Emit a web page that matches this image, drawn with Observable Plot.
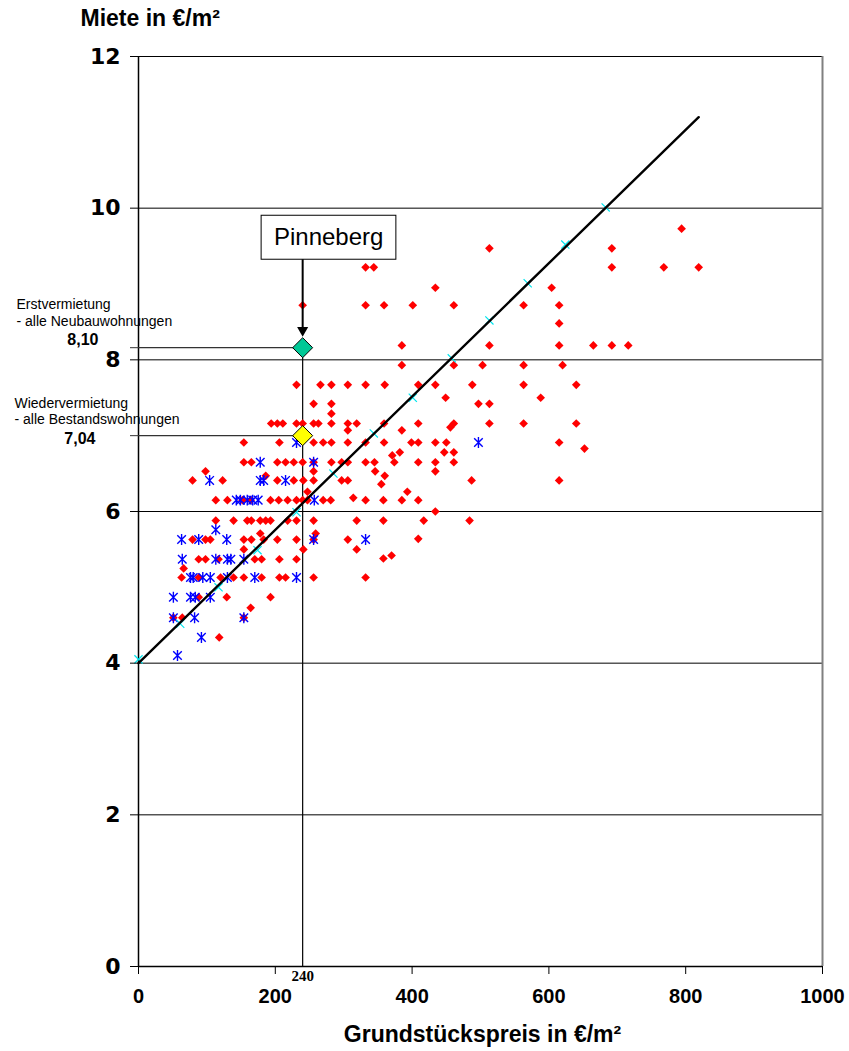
<!DOCTYPE html>
<html>
<head>
<meta charset="utf-8">
<script src="https://cdn.jsdelivr.net/npm/d3@7"></script>
<script src="https://cdn.jsdelivr.net/npm/@observablehq/plot@0.6"></script>
<style>
  html, body { margin: 0; padding: 0; background: #fff; }
  #chart svg { display: block; }
</style>
</head>
<body>
<div id="chart"></div>
<script>
// ---- data ----
const xTicks = [0, 200, 400, 600, 800, 1000];
const yTicks = [0, 2, 4, 6, 8, 10, 12];
const gridTicks = [2, 4, 6, 8, 10, 12];

// red diamonds: [rent, [land prices...]]
const redRows = [
  [9.73, [794]],
  [9.47, [513, 692]],
  [9.22, [332, 344, 692, 768, 819]],
  [8.95, [434, 604]],
  [8.72, [240, 332, 359, 401, 461, 563, 615]],
  [8.48, [615]],
  [8.19, [385, 513, 615, 665, 692, 716]],
  [7.93, [385, 461, 503, 563, 620]],
  [7.67, [231, 266, 282, 306, 332, 360, 409, 434, 488, 563, 640]],
  [7.50, [449, 588]],
  [7.42, [256, 282, 497, 513]],
  [7.29, [282]],
  [7.16, [194, 203, 211, 231, 240, 256, 263, 282, 306, 319, 359, 409, 461, 513, 563, 640]],
  [7.11, [456]],
  [7.07, [306, 385]],
  [6.91, [154, 206, 256, 270, 282, 306, 332, 359, 399, 409, 434, 450, 615]],
  [6.83, [652]],
  [6.78, [382, 447, 461]],
  [6.74, [371]],
  [6.65, [154, 165, 203, 215, 227, 240, 256, 282, 297, 306, 332, 345, 374, 409, 434, 461]],
  [6.53, [98, 256, 346, 434]],
  [6.47, [186, 360]],
  [6.41, [79, 123, 203, 227, 241, 256, 297, 306, 487, 615]],
  [6.36, [355]],
  [6.26, [247, 393]],
  [6.18, [314]],
  [6.15, [113, 130, 152, 164, 193, 205, 218, 231, 240, 247, 270, 281, 332, 358, 385, 409]],
  [6.00, [434]],
  [5.88, [113, 139, 159, 165, 178, 186, 193, 218, 231, 256, 319, 358, 417, 484]],
  [5.71, [178, 259]],
  [5.64, [409]],
  [5.63, [79, 98, 105, 154, 165, 183, 203, 231, 256, 306]],
  [5.50, [154, 241, 319]],
  [5.42, [370]],
  [5.38, [358]],
  [5.37, [88, 98, 117, 170, 180, 206, 231]],
  [5.25, [66]],
  [5.13, [63, 88, 120, 139, 154, 180, 206, 215, 256, 332]],
  [4.87, [88, 129, 193]],
  [4.73, [164]],
  [4.60, [51, 64, 154]],
  [4.34, [118]]
];

// blue asterisks
const blueRows = [
  [6.91, [231, 497]],
  [6.65, [178, 256]],
  [6.41, [104, 178, 183, 215]],
  [6.15, [143, 149, 159, 167, 175, 257]],
  [5.76, [113]],
  [5.63, [63, 88, 129, 256, 332]],
  [5.37, [64, 113, 130, 135, 154]],
  [5.13, [76, 80, 94, 105, 130, 170, 231]],
  [4.87, [51, 76, 83, 105]],
  [4.60, [51, 82, 154]],
  [4.34, [92]],
  [4.10, [57]]
];

// cyan markers on the trend line
const fitX = [0, 61, 117, 174, 231, 285, 344, 401, 458, 513, 569, 624, 683];
const fitY = [4.05, 4.52, 5.00, 5.49, 5.99, 6.50, 7.03, 7.50, 8.02, 8.52, 9.01, 9.52, 10.01];

// trend line end points
const trendX = [0, 819];
const trendY = [4.0, 11.2];

// Pinneberg values
const pinX = 240;
const erstY = 8.16, erstLabel = "8,10";
const wiederY = 7.0, wiederLabel = "7,04";
const boxSpan = {x1: 180, x2: 377, y1: 9.32, y2: 9.90};
const boxText = {x: 278, y: 9.61, label: "Pinneberg"};
const arrowTop = 9.32, arrowHeadY = 8.39;

// ---- build tables ----
const red = redRows.flatMap(([y, xs]) => xs.map(x => ({x, y})));
const blue = blueRows.flatMap(([y, xs]) => xs.map(x => ({x, y})));
const fit = fitX.map((x, i) => ({x, y: fitY[i]}));
const trend = trendX.map((x, i) => ({x, y: trendY[i]}));

// Excel-style asterisk marker: vertical bar plus an X
const excelStar = {
  draw(context, size) {
    const r = Math.sqrt(size) * 0.62;
    const d = r * 0.78;
    context.moveTo(0, -r); context.lineTo(0, r);
    context.moveTo(-d, -d); context.lineTo(d, d);
    context.moveTo(-d, d); context.lineTo(d, -d);
  }
};

const plot = Plot.plot({
  width: 849,
  height: 1051,
  marginLeft: 138,
  marginRight: 27,
  marginTop: 56,
  marginBottom: 85,
  x: {domain: [0, 1000]},
  y: {domain: [0, 12]},
  style: {fontFamily: "'Liberation Sans', Arial, sans-serif", background: "#fff", overflow: "visible"},
  marks: [
    Plot.gridY(gridTicks, {stroke: "#000", strokeOpacity: 1, strokeWidth: 1}),
    Plot.ruleX([1000], {stroke: "#808080", strokeWidth: 2}),
    Plot.ruleY([0], {stroke: "#000", strokeWidth: 1.5}),
    Plot.ruleX([0], {stroke: "#000", strokeWidth: 1.5}),
    // Pinneberg reference lines
    Plot.ruleX([pinX], {y1: 0, y2: erstY, stroke: "#000", strokeWidth: 1.2}),
    Plot.ruleY([erstY], {x1: 0, x2: pinX, stroke: "#333", strokeWidth: 1.3}),
    Plot.ruleY([wiederY], {x1: 0, x2: pinX, stroke: "#333", strokeWidth: 1.3}),
    Plot.axisY([erstY, wiederY], {tickSize: 8, tickFormat: () => "", label: null, stroke: "#333"}),
    // data
    Plot.dot(red, {x: "x", y: "y", symbol: "diamond2", r: 3.9, fill: "#ff0000"}),
    Plot.dot(blue, {x: "x", y: "y", symbol: excelStar, r: 5, stroke: "#0000ff", strokeWidth: 1.4}),
    Plot.dot(fit, {x: "x", y: "y", symbol: "times", r: 3.8, stroke: "#00e5ee", strokeWidth: 1.2}),
    Plot.line(trend, {x: "x", y: "y", stroke: "#000", strokeWidth: 2.4}),
    // Pinneberg box and arrow
    Plot.rect([boxSpan], {x1: "x1", x2: "x2", y1: "y1", y2: "y2", fill: "#fff", stroke: "#000", strokeWidth: 1}),
    Plot.text([boxText], {x: "x", y: "y", text: "label", fontSize: 24, fill: "#000", lineAnchor: "middle"}),
    Plot.ruleX([pinX], {y1: arrowTop, y2: arrowHeadY, stroke: "#000", strokeWidth: 2}),
    Plot.dot([{x: pinX, y: arrowHeadY}], {x: "x", y: "y", symbol: "triangle", rotate: 180, r: 4.1, fill: "#000"}),
    Plot.dot([{x: pinX, y: erstY}], {x: "x", y: "y", symbol: "diamond2", r: 9, fill: "#00c896", stroke: "#000", strokeWidth: 1}),
    Plot.dot([{x: pinX, y: wiederY}], {x: "x", y: "y", symbol: "diamond2", r: 9, fill: "#ffff00", stroke: "#000", strokeWidth: 1}),
    // left annotations
    Plot.text(["Erstvermietung"], {x: 0, y: erstY, dx: -122, dy: -49, textAnchor: "start", lineAnchor: "top", fontSize: 14, fill: "#000"}),
    Plot.text(["- alle Neubauwohnungen"], {x: 0, y: erstY, dx: -122, dy: -32, textAnchor: "start", lineAnchor: "top", fontSize: 14, fill: "#000"}),
    Plot.text([erstLabel], {x: 0, y: erstY, dx: -40, dy: -14, textAnchor: "end", lineAnchor: "top", fontSize: 16, fontWeight: "bold", fill: "#000"}),
    Plot.text(["Wiedervermietung"], {x: 0, y: wiederY, dx: -124, dy: -38, textAnchor: "start", lineAnchor: "top", fontSize: 14, fill: "#000"}),
    Plot.text(["- alle Bestandswohnungen"], {x: 0, y: wiederY, dx: -124, dy: -22, textAnchor: "start", lineAnchor: "top", fontSize: 14, fill: "#000"}),
    Plot.text([wiederLabel], {x: 0, y: wiederY, dx: -43, dy: -3, textAnchor: "end", lineAnchor: "top", fontSize: 16, fontWeight: "bold", fill: "#000"}),
    // special 240 tick label
    Plot.text([String(pinX)], {x: pinX, y: 0, dy: 10, lineAnchor: "middle", fontSize: 15, fontWeight: "bold", fontFamily: "'Liberation Serif', 'Times New Roman', serif", fill: "#000"}),
    // axes
    Plot.axisY(yTicks, {tickSize: 8, tickPadding: 10, label: null, tickFormat: d => String(d), fontSize: 22, fontWeight: "bold", fontFamily: "'DejaVu Sans', sans-serif", fill: "#000", stroke: "#000"}),
    Plot.axisX(xTicks, {tickSize: 8, tickPadding: 14, label: null, tickFormat: d => String(d), fontSize: 20, fontWeight: "bold", fontFamily: "'Liberation Sans Narrow', 'Arial Narrow', 'Liberation Sans', sans-serif", fill: "#000", stroke: "#000"}),
    // axis titles
    Plot.text(["Miete in €/m²"], {frameAnchor: "top-left", dx: -58, dy: -38, textAnchor: "start", lineAnchor: "middle", fontSize: 23, fontWeight: "bold", fill: "#000"}),
    Plot.text(["Grundstückspreis in €/m²"], {frameAnchor: "bottom", dx: 2, dy: 68, lineAnchor: "middle", fontSize: 23, fontWeight: "bold", fill: "#000"})
  ]
});
document.getElementById("chart").appendChild(plot);
</script>
</body>
</html>
